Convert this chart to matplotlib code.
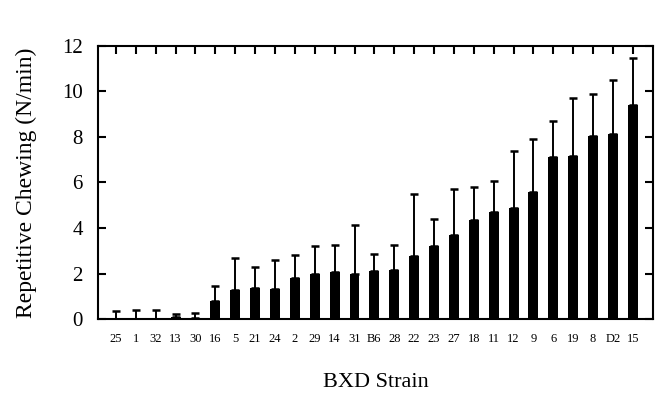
import matplotlib

matplotlib.use("Agg")
import matplotlib.pyplot as plt
import numpy as np

# BXD strains, sorted by mean repetitive chewing
strains = ["25", "1", "32", "13", "30", "16", "5", "21", "24", "2", "29", "14", "31",
           "B6", "28", "22", "23", "27", "18", "11", "12", "9", "6", "19", "8", "D2", "15"]
means = [0.0, 0.0, 0.0, 0.08, 0.05, 0.81, 1.28, 1.35, 1.31, 1.79, 2.0, 2.08, 2.0,
         2.11, 2.14, 2.75, 3.21, 3.71, 4.33, 4.71, 4.87, 5.57, 7.1, 7.16, 8.04, 8.14, 9.38]
upper = [0.36, 0.41, 0.38, 0.23, 0.29, 1.47, 2.69, 2.30, 2.59, 2.81, 3.23, 3.24, 4.12,
         2.86, 3.27, 5.5, 4.40, 5.71, 5.79, 6.07, 7.37, 7.92, 8.7, 9.69, 9.87, 10.5, 11.47]

plt.rcParams["font.family"] = ["Liberation Serif", "DejaVu Serif"]

x = np.arange(len(strains))
err = np.array(upper) - np.array(means)

fig = plt.figure(figsize=(6.55, 3.94), dpi=100)
ax = fig.add_axes([0.1496, 0.19, 0.847, 0.694])

ax.bar(x, means, width=0.5, color="black", zorder=2)
ax.errorbar(x, means, yerr=[np.zeros_like(err), err], fmt="none", ecolor="black",
            elinewidth=1.4, capsize=3.2, capthick=1.8, zorder=1)

ax.set_xlim(-0.9, 27.0)
ax.set_ylim(0, 12)
ax.set_yticks([0, 2, 4, 6, 8, 10, 12])
ax.set_xticks(x)
ax.set_xticklabels(strains, fontsize=9)

for side in ["left", "right", "top", "bottom"]:
    ax.spines[side].set_linewidth(1.5)

ax.tick_params(axis="y", which="both", direction="in", left=True, right=True,
               length=6, width=1.5, labelsize=15, pad=11)
ax.tick_params(axis="x", which="both", direction="in", bottom=False, top=True,
               length=6, width=1.5, pad=10)

ax.set_ylabel("Repetitive Chewing (N/min)", fontsize=17, labelpad=18)
ax.set_xlabel("BXD Strain", fontsize=16, labelpad=20)

fig.savefig("out.png", dpi=100)
